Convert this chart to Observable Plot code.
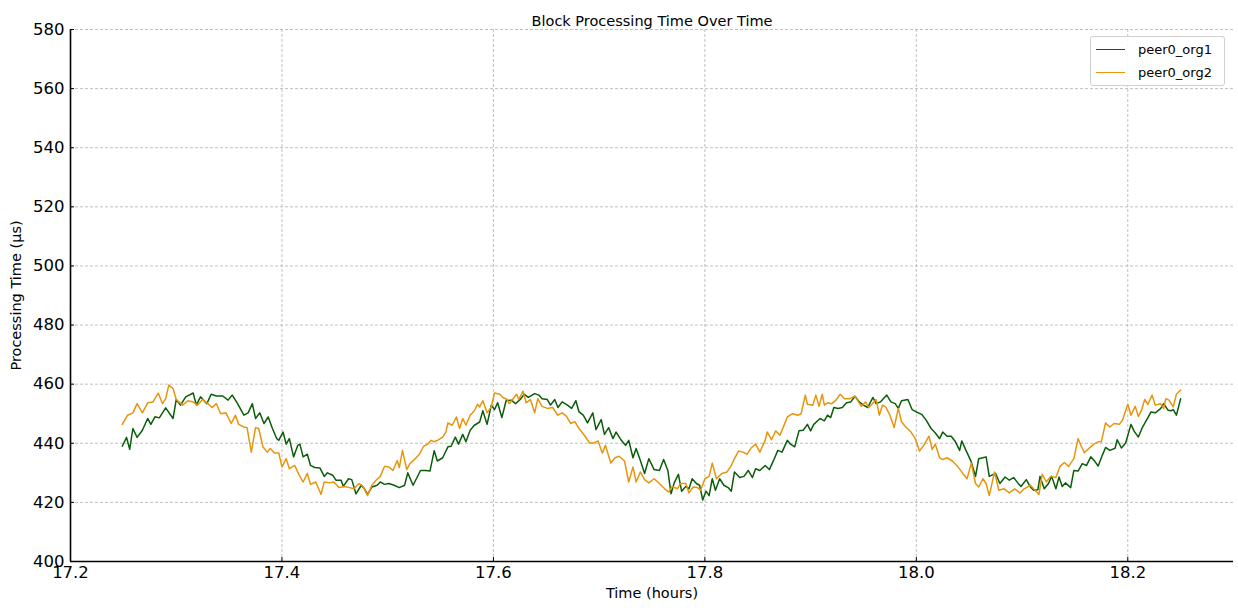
<!DOCTYPE html>
<html><head><meta charset="utf-8">
<script src="https://cdn.jsdelivr.net/npm/d3@7"></script>
<script src="https://cdn.jsdelivr.net/npm/@observablehq/plot@0.6"></script>
<style>
body{margin:0;background:#fff;font-family:"DejaVu Sans",sans-serif;}
#wrap{position:relative;width:1238px;height:610px;overflow:hidden}
#legend{position:absolute;left:1090px;top:36px;width:135px;height:50px;border:1px solid #d0d0d0;border-radius:3px;background:rgba(255,255,255,0.85);font-size:13px;box-sizing:border-box;color:#000}
.item{position:absolute;left:0;height:16px;display:flex;align-items:center;white-space:nowrap}
.sw{width:29px;height:0;border-top:1.5px solid;margin-left:5px;margin-right:13px}
</style></head>
<body><div id="wrap"><div id="chart"></div><div id="legend"></div></div>
<script>
const titleText = "Block Processing Time Over Time";
const xLabel = "Time (hours)";
const yLabel = "Processing Time (μs)";
const seriesNames = ["peer0_org1", "peer0_org2"];
const seriesColors = ["#0b5d0b", "#e8950e"];
const xTicks = [17.2, 17.4, 17.6, 17.8, 18.0, 18.2];
const yTicks = [400, 420, 440, 460, 480, 500, 520, 540, 560, 580];

const org1Hours = [
17.249,17.253,17.256,17.259,17.263,17.268,17.273,17.276,17.280,17.284,17.290,17.297,17.300,17.304,17.309,17.316,17.319,17.323,17.329,17.333,17.338,17.344,17.349,17.353,17.358,17.364,17.368,17.372,17.375,17.379,17.383,17.387,17.391,17.395,17.397,17.401,17.404,17.407,17.411,
17.415,17.417,17.420,17.424,17.427,17.431,17.436,17.440,17.443,17.448,17.451,17.456,17.458,17.463,17.466,17.470,17.475,17.478,17.481,17.485,17.490,17.493,17.497,17.501,17.506,17.511,17.516,17.519,17.524,17.528,17.531,17.536,17.540,17.544,17.547,17.552,17.557,17.560,17.564,17.567,17.571,17.574,
17.578,17.582,17.587,17.590,17.594,17.598,17.601,17.604,17.608,17.612,17.617,17.621,17.626,17.629,17.633,17.639,17.643,17.646,17.651,17.654,17.658,17.661,17.665,17.670,17.674,17.678,17.681,17.685,17.689,17.694,17.697,17.702,17.705,17.709,17.713,17.716,17.721,17.725,17.728,17.732,17.735,17.739,
17.743,17.747,17.752,17.757,17.761,17.765,17.768,17.771,17.775,17.778,17.782,17.785,17.788,17.792,17.795,17.798,17.801,17.804,17.807,17.810,17.814,17.818,17.822,17.825,17.828,17.833,17.837,17.841,17.845,17.848,17.852,17.857,17.861,17.865,17.869,17.873,17.878,17.881,17.885,17.889,17.893,17.897,17.900,17.903,
17.909,17.913,17.916,17.919,17.922,17.926,17.930,17.934,17.938,17.942,17.946,17.950,17.954,17.959,17.962,17.966,17.972,17.976,17.980,17.983,17.986,17.992,17.996,18.000,18.005,18.009,18.014,18.018,18.022,18.025,18.029,18.033,18.037,18.041,18.043,18.047,18.052,18.056,18.059,18.063,18.066,18.069,
18.075,18.079,18.084,18.088,18.092,18.096,18.099,18.104,18.108,18.111,18.115,18.117,18.121,18.125,18.128,18.132,18.135,18.138,18.141,18.146,18.149,18.153,18.157,18.161,18.165,18.169,18.172,18.176,18.179,18.183,18.188,18.190,18.194,18.198,18.203,18.206,18.210,18.214,18.218,18.222,18.226,18.231,18.234,18.238,18.241,18.243,18.246,18.250
];
const org1Values = [
439,442,438,445,442,444.4,448.4,446.4,449,448.6,452,448.4,454.8,452.9,455.7,457,453,455.7,453.4,456.6,456,456,454.6,456.3,453.4,449.5,450.3,453.4,448.4,450.3,446.7,448.9,445,441.6,441,443.8,439.7,441.6,435.4,
439.3,439.7,435.4,436.3,432.5,431.8,431.6,428.8,430,429.2,427.5,427.5,425.4,428,427.7,422.9,425.8,424.6,422.7,425.2,425.8,426.9,426.1,426.4,425.8,425,425.8,430,425.8,428.6,430.8,430.8,430.6,437.5,434,435.1,438.8,439,442.1,439.7,443,440.5,
444.4,446.1,447.2,451,446.4,452.9,451.4,453.7,448.7,454.4,454.6,453.4,455.1,456.6,455.5,456.8,456.3,455.1,454.8,452.9,454.8,452.1,454,452.9,451.8,454.4,450.6,449.5,446.9,450.3,444.6,448,443,445.3,441.6,443.8,441,439.3,441,435.1,438.2,434.2,
429.8,434.8,431.1,430.8,434.5,430.8,422.9,426.6,429.5,423.8,425.4,424.6,428,426.4,425.8,420.8,423.8,422.3,428,424.1,428,425.8,425,423.8,430.3,428.4,428.8,430.8,428.4,431.4,430.8,432.5,431.1,434.2,437.6,437,441,439.7,438.8,444.2,444.4,446.4,444.2,446.4,
448.4,447.6,449.5,448.7,452.1,451.8,452.1,453.7,454,455.9,454,452.9,452.1,455.5,453.4,454,456.3,454,453.4,451.8,454.4,454.8,451.4,450.6,449.8,448,445,443.5,441.6,443.8,442.4,442.4,440.5,437.6,440.8,437.6,433.7,428.8,434.8,435.1,435.4,428.8,
429.8,426.4,428.6,427.5,428.4,426.6,425.4,427.7,425.2,424.1,424.3,428.8,424.6,426.4,428.8,424.6,428.6,425.4,426.6,425,430.8,430.6,433.1,432.5,435.4,433.8,432.3,436,438.6,437.6,438.3,441.2,438.4,440.1,446.4,444.1,442.1,445.5,448,450.6,450.3,451.7,453.4,451.2,451,451.4,449.5,455.1
];

const org2Hours = [
17.249,17.254,17.259,17.263,17.268,17.273,17.278,17.283,17.287,17.290,17.293,17.297,17.300,17.306,17.311,17.316,17.320,17.325,17.330,17.334,17.338,17.342,17.347,17.352,17.356,17.359,17.364,17.367,17.371,17.375,17.378,17.382,17.386,17.389,17.393,17.397,17.400,17.404,17.407,
17.412,17.416,17.420,17.424,17.427,17.432,17.437,17.440,17.445,17.449,17.454,17.459,17.464,17.468,17.473,17.477,17.481,17.485,17.489,17.493,17.497,17.501,17.505,17.509,17.511,17.514,17.518,17.521,17.526,17.530,17.534,17.538,17.541,17.544,17.547,17.552,17.555,17.557,17.561,17.565,17.568,17.571,17.574,
17.578,17.582,17.585,17.587,17.590,17.594,17.598,17.601,17.606,17.609,17.613,17.615,17.618,17.622,17.624,17.628,17.631,17.635,17.639,17.642,17.646,17.651,17.656,17.661,17.665,17.669,17.673,17.677,17.681,17.686,17.691,17.695,17.699,17.703,17.706,17.711,17.715,17.719,17.724,17.728,17.732,17.735,17.739,
17.743,17.747,17.752,17.757,17.762,17.766,17.769,17.774,17.777,17.782,17.785,17.789,17.793,17.796,17.800,17.804,17.807,17.811,17.816,17.821,17.825,17.828,17.832,17.836,17.840,17.844,17.848,17.852,17.857,17.859,17.863,17.867,17.871,17.874,17.878,17.883,17.888,17.891,17.895,17.897,17.902,
17.905,17.908,17.911,17.913,17.916,17.920,17.924,17.928,17.932,17.937,17.942,17.948,17.952,17.955,17.960,17.962,17.965,17.968,17.971,17.975,17.979,17.983,17.986,17.990,17.995,17.999,18.003,18.007,18.012,18.015,18.018,18.022,18.025,18.029,18.034,18.039,18.044,18.048,18.052,18.056,18.059,18.063,18.066,18.069,
18.074,18.078,18.083,18.088,18.093,18.098,18.102,18.108,18.111,18.116,18.119,18.123,18.127,18.132,18.136,18.140,18.144,18.149,18.153,18.156,18.159,18.163,18.168,18.172,18.175,18.179,18.183,18.187,18.192,18.195,18.200,18.203,18.207,18.210,18.213,18.216,18.219,18.223,18.226,18.231,18.234,18.236,18.239,18.243,18.246,18.250
];
const org2Values = [
446.4,449.5,450.3,453.4,450.3,453.7,454,457,453.4,455.1,459.7,458.5,454.8,452.9,454.4,454,452.9,454.8,453.4,452.1,453.4,450,450.3,446.7,449.5,446.4,445.5,445.3,437,445.3,445,438.8,437,438.2,436.7,436.7,432,434.8,431.4,
432.5,429.5,426.9,429.8,426.1,426.9,422.7,426.9,426.6,426.9,425,425.4,425,424.6,426.4,425.2,422.3,425.8,427.5,428.8,432.2,432,430.8,434.2,431.8,437.6,431.1,433.1,434.8,436.3,439,439.7,441,440.5,441,442.1,443.8,446.9,446.1,448.9,445,448.4,446.1,
449.5,451,453.2,452.3,454.4,450.3,452.3,457,456.6,455.5,454.8,453.4,454.8,456.6,454.8,457.7,453.7,454.8,450.3,455.1,452.5,451.8,452.1,449.5,450.3,449.2,446.7,447.3,445,442.7,440.1,440.1,440.8,436.7,439.3,433.3,435.1,435.6,434,426.9,432,426.9,430.3,
427.7,426.6,428,426.4,424.6,423.5,425.4,424.6,426.4,426.4,423.2,425.2,425,424.1,428,428.8,433.3,428,429.8,430.3,432.5,434.8,437.4,437,436.3,438.5,439.7,437,441,443.8,441.2,444.2,442.7,445.3,448.9,450,449.5,450,456.3,453.2,452.9,
456.3,452.5,456.6,452.9,453.7,453.4,454.6,456.6,455.1,455.1,455.9,452.5,454,452.1,454,454.8,449.5,452.9,452.3,449.5,445.3,451.8,447.3,445.5,443.8,441.6,437.4,439.3,442.4,437.9,439.7,435.1,434.5,435.1,434,432.2,429.8,428,433.3,426.4,425.2,428,426.4,422.3,
430.3,424.1,424.6,423.2,424.6,423.2,424.6,425.8,424.6,422.7,429.5,426.9,428.8,428.4,432.2,433.5,432.2,434.8,441.6,439,436.8,438.2,439.7,440.5,440.5,446.9,445.5,446.7,446.4,447.8,453.2,449.5,452.5,449.1,451.2,454.8,453.2,456.3,452.9,453.4,451.7,455.1,454.6,452.3,456.6,458
];

const rows = [
  ...org1Hours.map((h, i) => ({series: seriesNames[0], hour: h, value: org1Values[i]})),
  ...org2Hours.map((h, i) => ({series: seriesNames[1], hour: h, value: org2Values[i]}))
];

const gridStyle = {stroke: "#b0b0b0", strokeOpacity: 1, strokeWidth: 0.8, strokeDasharray: "3,2"};

const chart = Plot.plot({
  width: 1238, height: 610,
  marginLeft: 70, marginRight: 5, marginTop: 29, marginBottom: 49,
  style: {fontFamily: "'DejaVu Sans', sans-serif", fontSize: "16.5px", background: "white", color: "black", overflow: "visible"},
  x: {domain: [17.2, 18.3]},
  y: {domain: [400, 580]},
  color: {domain: seriesNames, range: seriesColors},
  marks: [
    Plot.gridX(xTicks, gridStyle),
    Plot.gridY(yTicks, gridStyle),
    Plot.line(rows, {x: "hour", y: "value", z: "series", stroke: "series", strokeWidth: 1.5}),
    Plot.ruleX([17.2], {stroke: "black", strokeWidth: 1.6}),
    Plot.ruleY([400], {stroke: "black", strokeWidth: 1.6}),
    Plot.axisX(xTicks, {tickSize: 0, tickPadding: 5, tickFormat: d => d.toFixed(1), label: null}),
    Plot.axisX(xTicks, {tickSize: 4, dy: -4, tickFormat: () => "", label: null, stroke: "black"}),
    Plot.axisY(yTicks, {tickSize: 0, tickPadding: 6, tickFormat: d => String(d), label: null}),
    Plot.axisY(yTicks, {tickSize: 4, dx: 4, tickFormat: () => "", label: null, stroke: "black"}),
    Plot.text([titleText], {frameAnchor: "top", dy: -14, fontSize: 14.5, textAnchor: "middle"}),
    Plot.text([xLabel], {frameAnchor: "bottom", dy: 36, fontSize: 14.5, textAnchor: "middle"}),
    Plot.text([yLabel], {frameAnchor: "left", dx: -54, rotate: -90, fontSize: 14.5, textAnchor: "middle"})
  ]
});
document.getElementById("chart").appendChild(chart);

const legend = document.getElementById("legend");
seriesNames.forEach((name, i) => {
  const item = document.createElement("div");
  item.className = "item";
  item.style.top = (i === 0 ? 4 : 27) + "px";
  const sw = document.createElement("span");
  sw.className = "sw";
  sw.style.borderTopColor = seriesColors[i];
  const label = document.createElement("span");
  label.textContent = name;
  item.appendChild(sw);
  item.appendChild(label);
  legend.appendChild(item);
});
</script>
</body></html>
